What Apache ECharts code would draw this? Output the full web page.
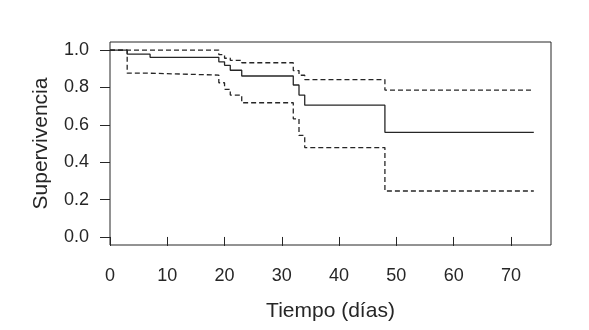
<!DOCTYPE html>
<html>
<head>
<meta charset="utf-8">
<script src="https://cdn.jsdelivr.net/npm/echarts@6/dist/echarts.min.js"></script>
<style>
  html, body { margin: 0; padding: 0; background: #fff; }
  #chart { width: 589px; height: 330px; }
</style>
</head>
<body>
<div id="chart"></div>
<script>
// Kaplan-Meier: tiempo en dias, supervivencia e intervalo de confianza
var tiempo   = [0, 3, 7, 19, 20, 21, 23, 32, 33, 34, 48, 74];
var surv     = [1.0, 0.978, 0.961, 0.937, 0.918, 0.892, 0.861, 0.813, 0.759, 0.705, 0.56, 0.56];
var superior = [1.0, 1.0, 1.0, 0.975, 0.956, 0.945, 0.932, 0.89, 0.865, 0.842, 0.786, 0.786];
var inferior = [1.0, 0.876, 0.866, 0.825, 0.79, 0.759, 0.718, 0.632, 0.543, 0.478, 0.246, 0.246];

var xTicks = [0, 10, 20, 30, 40, 50, 60, 70];
var yTicks = [0, 0.2, 0.4, 0.6, 0.8, 1.0];

function pares(ys) {
  return tiempo.map(function (t, i) { return [t, ys[i]]; });
}

var chart = echarts.init(document.getElementById('chart'));
var ink = '#262626';
var font = 'Liberation Sans, Arial, sans-serif';

chart.setOption({
  animation: false,
  backgroundColor: '#fff',
  grid: {
    left: 110, right: 38, top: 42, bottom: 85,
    show: true, borderColor: ink, borderWidth: 1
  },
  xAxis: {
    type: 'value',
    min: 0,
    max: 77,
    name: 'Tiempo (días)',
    nameLocation: 'middle',
    nameGap: 56,
    nameTextStyle: { fontFamily: font, fontSize: 21, color: ink },
    axisLine: { show: false },
    axisTick: { show: true, customValues: xTicks, length: 9, lineStyle: { color: ink, width: 1 } },
    axisLabel: { customValues: xTicks, margin: 22, fontFamily: font, fontSize: 18, color: ink },
    splitLine: { show: false }
  },
  yAxis: {
    type: 'value',
    min: -0.043,
    max: 1.043,
    name: 'Supervivencia',
    nameLocation: 'middle',
    nameGap: 58,
    nameTextStyle: { fontFamily: font, fontSize: 21, color: ink },
    axisLine: { show: false },
    axisTick: { show: true, customValues: yTicks, length: 10, lineStyle: { color: ink, width: 1 } },
    axisLabel: {
      customValues: yTicks, margin: 21, fontFamily: font, fontSize: 18, color: ink,
      formatter: function (v) { return v.toFixed(1); }
    },
    splitLine: { show: false }
  },
  series: [
    {
      type: 'line', step: 'end', symbol: 'none', data: pares(surv),
      lineStyle: { color: ink, width: 1.3 }
    },
    {
      type: 'line', step: 'end', symbol: 'none', data: pares(superior),
      lineStyle: { color: ink, width: 1.3, type: [5, 3] }
    },
    {
      type: 'line', step: 'end', symbol: 'none', data: pares(inferior),
      lineStyle: { color: ink, width: 1.3, type: [5, 3] }
    }
  ]
});
</script>
</body>
</html>
